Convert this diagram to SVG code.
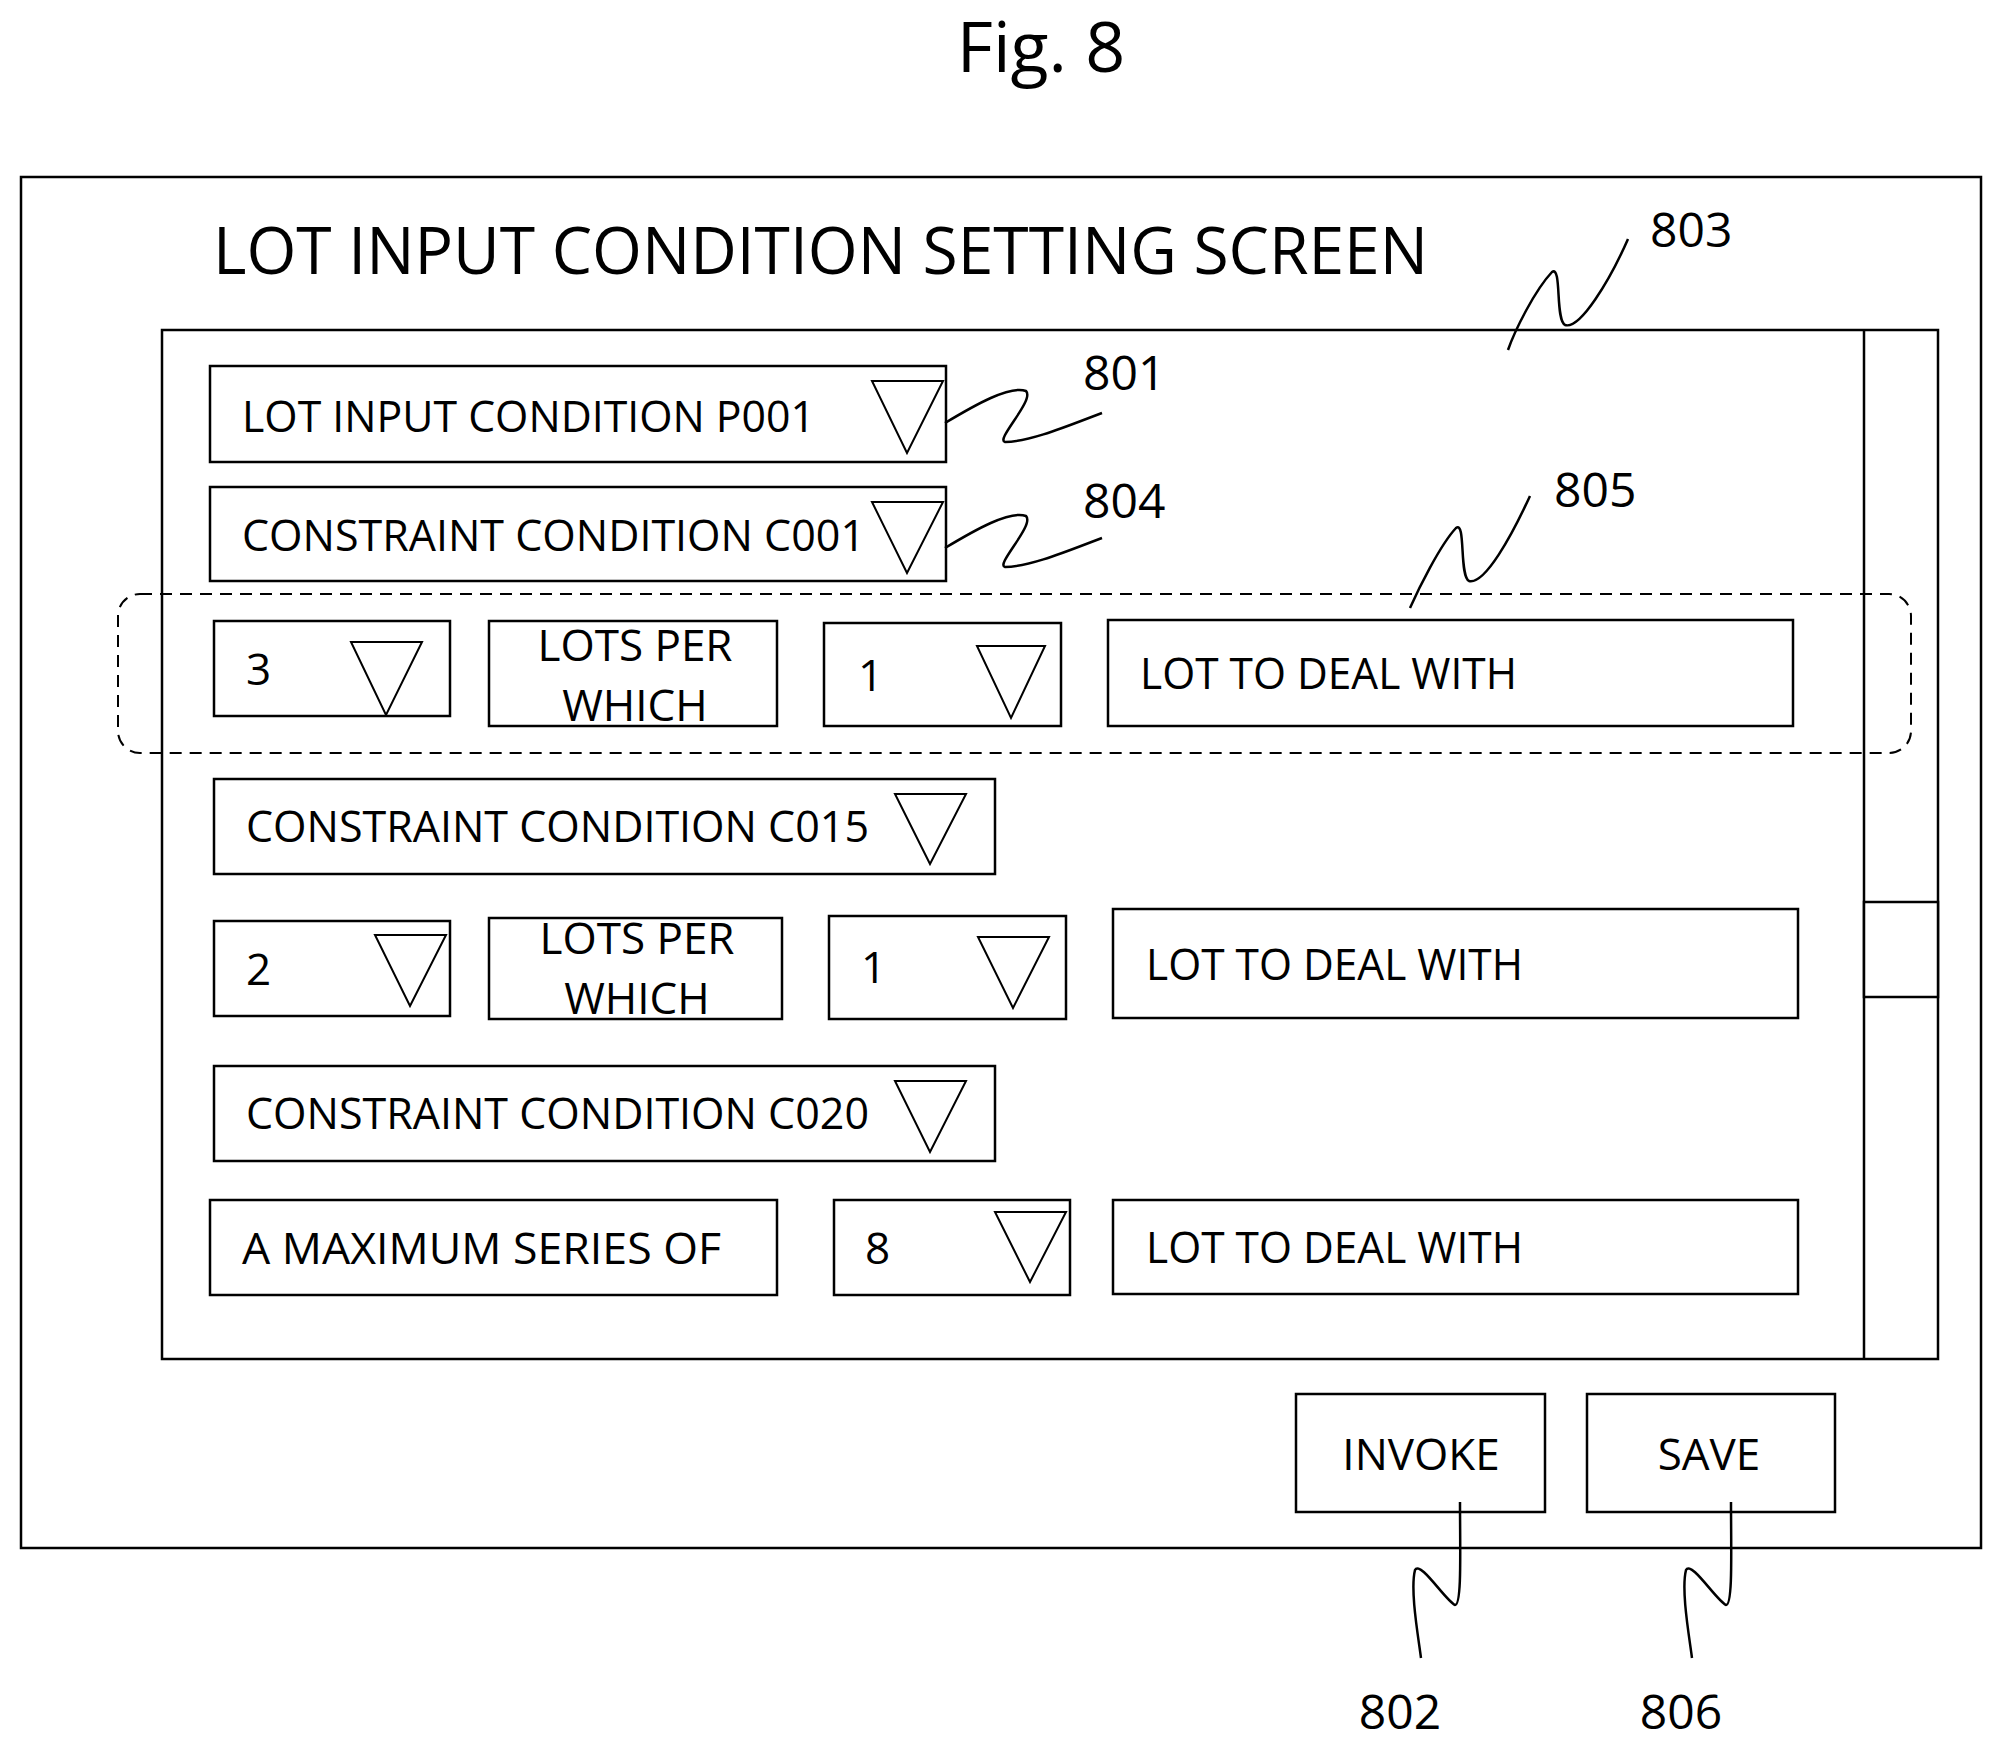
<svg xmlns="http://www.w3.org/2000/svg" width="2004" height="1753" viewBox="0 0 2004 1753">
<style>
text{font-family:"Open Sans","Liberation Sans",sans-serif;fill:#000}
.b{fill:#fff;stroke:#000;stroke-width:2.5}
.t{font-size:44px}
.l{font-size:48px}
.tri{fill:#fff;stroke:#000;stroke-width:2}
.ld{fill:none;stroke:#000;stroke-width:2.5}
.c{text-anchor:middle}
</style>
<rect width="2004" height="1753" fill="#fff"/>
<text x="1041" y="72" class="c" style="font-size:70px">Fig. 8</text>
<g id="frame"><rect class="b" x="21" y="177" width="1960" height="1371"/>
<text x="213" y="274" style="font-size:66px" textLength="1215" lengthAdjust="spacingAndGlyphs">LOT INPUT CONDITION SETTING SCREEN</text></g>
<g id="panel"><rect class="b" x="162" y="330" width="1776" height="1029"/>
<line x1="1864" y1="330" x2="1864" y2="1359" stroke="#000" stroke-width="2.5"/>
<rect class="b" x="1864" y="902" width="74" height="95"/></g>
<g id="n805"><rect x="118" y="594" width="1793" height="159" rx="22" fill="none" stroke="#000" stroke-width="2" stroke-dasharray="12,8"/></g>
<g id="n801"><rect class="b" x="210" y="366" width="736" height="96"/><text class="t" x="242" y="432" textLength="573" lengthAdjust="spacingAndGlyphs">LOT INPUT CONDITION P001</text><polygon class="tri" points="872,381 943,381 907,453"/></g>
<g id="n804"><rect class="b" x="210" y="487" width="736" height="94"/><text class="t" x="242" y="551" textLength="623" lengthAdjust="spacingAndGlyphs">CONSTRAINT CONDITION C001</text><polygon class="tri" points="872,502 943,502 907,573"/></g>
<g id="r3a"><rect class="b" x="214" y="621" width="236" height="95"/><text class="t" x="246" y="685">3</text><polygon class="tri" points="351,642 422,642 386,715"/></g>
<g id="r3b"><rect class="b" x="489" y="621" width="288" height="105"/><text class="t c" x="635" y="661">LOTS PER</text><text class="t c" x="635" y="721">WHICH</text></g>
<g id="r3c"><rect class="b" x="824" y="623" width="237" height="103"/><text class="t" x="858" y="691">1</text><polygon class="tri" points="977,646 1045,646 1011,718"/></g>
<g id="r3d"><rect class="b" x="1108" y="620" width="685" height="106"/><text class="t" x="1140" y="689" textLength="377" lengthAdjust="spacingAndGlyphs">LOT TO DEAL WITH</text></g>
<g id="c015"><rect class="b" x="214" y="779" width="781" height="95"/><text class="t" x="246" y="842" textLength="623" lengthAdjust="spacingAndGlyphs">CONSTRAINT CONDITION C015</text><polygon class="tri" points="895,794 966,794 930,864"/></g>
<g id="r5a"><rect class="b" x="214" y="921" width="236" height="95"/><text class="t" x="246" y="985">2</text><polygon class="tri" points="375,935 446,935 410,1006"/></g>
<g id="r5b"><rect class="b" x="489" y="918" width="293" height="101"/><text class="t c" x="637" y="954">LOTS PER</text><text class="t c" x="637" y="1014">WHICH</text></g>
<g id="r5c"><rect class="b" x="829" y="916" width="237" height="103"/><text class="t" x="861" y="983">1</text><polygon class="tri" points="978,937 1049,937 1013,1008"/></g>
<g id="r5d"><rect class="b" x="1113" y="909" width="685" height="109"/><text class="t" x="1146" y="980" textLength="377" lengthAdjust="spacingAndGlyphs">LOT TO DEAL WITH</text></g>
<g id="c020"><rect class="b" x="214" y="1066" width="781" height="95"/><text class="t" x="246" y="1129" textLength="623" lengthAdjust="spacingAndGlyphs">CONSTRAINT CONDITION C020</text><polygon class="tri" points="895,1081 966,1081 930,1152"/></g>
<g id="r7a"><rect class="b" x="210" y="1200" width="567" height="95"/><text class="t" x="242" y="1264" textLength="479" lengthAdjust="spacingAndGlyphs">A MAXIMUM SERIES OF</text></g>
<g id="r7b"><rect class="b" x="834" y="1200" width="236" height="95"/><text class="t" x="865" y="1264">8</text><polygon class="tri" points="995,1212 1066,1212 1030,1282"/></g>
<g id="r7c"><rect class="b" x="1113" y="1200" width="685" height="94"/><text class="t" x="1146" y="1263" textLength="377" lengthAdjust="spacingAndGlyphs">LOT TO DEAL WITH</text></g>
<g id="n802"><rect class="b" x="1296" y="1394" width="249" height="118"/><text class="t c" x="1421" y="1470">INVOKE</text></g>
<g id="n806"><rect class="b" x="1587" y="1394" width="248" height="118"/><text class="t c" x="1709" y="1470">SAVE</text></g>
<g id="connectors">
<path class="ld" d="M945,423 C975,405 1010,385 1026,391 C1035,400 995,440 1005,442 C1030,442 1070,425 1102,413"/>
<path class="ld" d="M945,548 C975,530 1010,510 1026,516 C1035,525 995,565 1005,567 C1030,567 1070,550 1102,538"/>
<path class="ld" d="M1628,239 C1610,280 1580,330 1565,325 C1555,320 1562,265 1552,272 C1535,290 1515,330 1508,350"/>
<path class="ld" d="M1530,496 C1512,535 1485,585 1469,581 C1459,576 1466,520 1456,528 C1440,545 1418,590 1410,608"/>
<path class="ld" d="M1460,1502 C1460,1550 1462,1605 1455,1605 C1445,1600 1420,1560 1415,1570 C1410,1590 1418,1635 1421,1658"/>
<path class="ld" d="M1731,1502 C1731,1550 1733,1605 1726,1605 C1716,1600 1691,1560 1686,1570 C1681,1590 1689,1635 1692,1658"/>
</g>
<g id="labels">
<text class="l" x="1083" y="390">801</text>
<text class="l" x="1083" y="518">804</text>
<text class="l" x="1650" y="247">803</text>
<text class="l" x="1554" y="507">805</text>
<text class="l c" x="1400" y="1729">802</text>
<text class="l c" x="1681" y="1729">806</text>
</g>
</svg>
